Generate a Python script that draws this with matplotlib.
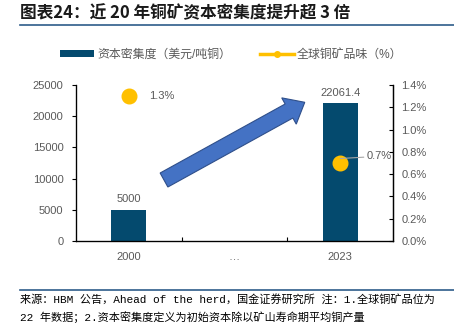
import numpy as np
import matplotlib
matplotlib.use("Agg")
from matplotlib import pyplot as plt
from matplotlib.lines import Line2D
from matplotlib.patches import FancyArrow, Patch

plt.rcParams['font.family'] = ['Liberation Sans', 'Noto Sans CJK SC']

years = ["2000", "…", "2023"]
capex = [5000, np.nan, 22061.4]      # 资本密集度（美元/吨铜）
grade = [1.3, np.nan, 0.7]           # 全球铜矿品味（%）

bar_color = "#044A6E"
dot_color = "#FFC000"
grey = "#595959"

fig = plt.figure(figsize=(4.54, 3.24), dpi=100)

# title and rules
fig.text(0.044, 0.958, "图表24：近 20 年铜矿资本密集度提升超 3 倍", fontsize=12,
         fontweight="bold", color="#1a1a1a", va="center",
         family=["Noto Sans CJK SC", "DejaVu Sans"])
fig.add_artist(Line2D([0.044, 1.0], [0.923, 0.923], color="#2E5C8A", lw=1.2))
fig.add_artist(Line2D([0.044, 1.0], [0.105, 0.105], color="#2E5C8A", lw=1.2))

ax = fig.add_axes([0.1674, 0.2562, 0.6982, 0.4815])
x = np.arange(len(years))
ax.bar(x, capex, width=0.33, color=bar_color, zorder=2)
ax.set_xlim(-0.5, 2.5)
ax.set_ylim(0, 25000)
ax.set_yticks(np.arange(0, 25001, 5000))
ax.set_xticks(x)
ax.set_xticklabels(years)
ax.set_xticks([0.5, 1.5], minor=True)
ax.tick_params(axis="x", which="major", length=0, pad=8, labelsize=8, labelcolor=grey)
ax.tick_params(axis="x", which="minor", direction="in", length=3, width=0.8)
ax.tick_params(axis="y", direction="out", length=3, width=0.8, labelsize=8, labelcolor=grey, pad=6)
ax.spines["top"].set_visible(False)
for s in ["left", "bottom", "right"]:
    ax.spines[s].set_linewidth(0.9)

for xi, v in zip(x, capex):
    if not np.isnan(v):
        ax.text(xi, v + 900, f"{v:g}", ha="center", va="bottom", fontsize=8, color=grey)

ax2 = ax.twinx()
ax2.plot(x, grade, "o", color=dot_color, ms=10.5, zorder=3)
ax2.set_ylim(0, 1.4)
ax2.set_yticks(np.arange(0, 1.41, 0.2))
ax2.set_yticklabels([f"{t:.1f}%" for t in np.arange(0, 1.41, 0.2)])
ax2.tick_params(axis="y", direction="in", length=3, width=0.8, labelsize=8, labelcolor=grey, pad=6)
ax2.spines["top"].set_visible(False)
ax2.spines["right"].set_linewidth(0.9)

ax2.text(0.19, 1.3, "1.3%", va="center", ha="left", fontsize=8, color=grey)
ax2.annotate("0.7%", xy=(2.0, 0.74), xytext=(2.25, 0.76), va="center", ha="left",
             fontsize=8, color=grey,
             arrowprops=dict(arrowstyle="-", color="#A6A6A6", lw=0.8, shrinkA=0, shrinkB=0))

# growth arrow, drawn in inches
arrow = FancyArrow(1.64, 1.44, 1.25, 0.69, width=0.16, head_width=0.3,
                   head_length=0.18, length_includes_head=False,
                   facecolor="#4472C4", edgecolor="#2F4F8A", lw=0.8,
                   transform=fig.dpi_scale_trans, zorder=5)
fig.add_artist(arrow)

handles = [Patch(facecolor=bar_color, edgecolor="none"),
           Line2D([], [], color=dot_color, lw=2.5, marker="o", ms=4)]
labels = ["资本密集度（美元/吨铜）", "全球铜矿品味（%）"]
fig.legend(handles, labels, loc="center", bbox_to_anchor=(0.51, 0.83), ncol=2,
           frameon=False, fontsize=8.6, labelcolor=grey, handlelength=2.8,
           handleheight=0.5, handletextpad=0.3, columnspacing=2.4)

fig.text(0.044, 0.074, "来源：HBM 公告，Ahead of the herd，国金证券研究所 注：1.全球铜矿品位为",
         fontsize=8, va="center", family=["Liberation Mono", "Noto Sans CJK SC"])
fig.text(0.044, 0.022, "22 年数据；2.资本密集度定义为初始资本除以矿山寿命期平均铜产量",
         fontsize=8, va="center", family=["Liberation Mono", "Noto Sans CJK SC"])

fig.savefig("out.png", dpi=100)
